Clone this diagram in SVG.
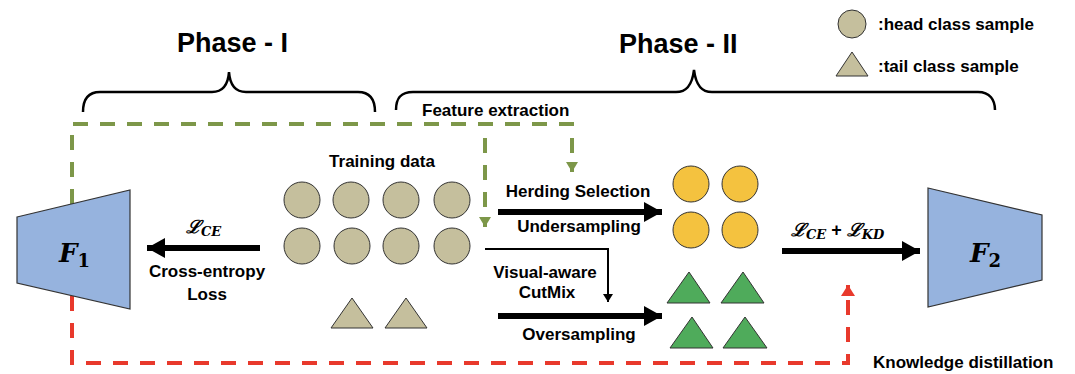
<svg xmlns="http://www.w3.org/2000/svg" width="1075" height="374" viewBox="0 0 1075 374">
<style>
.lbl{font-family:"Liberation Sans",Arial,sans-serif;font-weight:bold;font-size:17px;fill:#000}
.phase{font-family:"Liberation Sans",Arial,sans-serif;font-weight:bold;font-size:27px;fill:#000}
.math{font-family:"DejaVu Serif",serif;font-weight:bold;font-style:italic;fill:#000}
.head{fill:#c5bf9d;stroke:#333;stroke-width:1}
.tail{fill:#c5bf9d;stroke:#333;stroke-width:1}
.orange{fill:#f4c23f;stroke:#333;stroke-width:1}
.green{fill:#4fab5b;stroke:#333;stroke-width:1}
.net{fill:#96b3de;stroke:#333;stroke-width:1.2}
.brace{fill:none;stroke:#000;stroke-width:2.5}
.gdash{fill:none;stroke:#7d9749;stroke-width:4;stroke-dasharray:15 12}
.rdash{fill:none;stroke:#e8392c;stroke-width:4;stroke-dasharray:15 12}
.thick{stroke:#000;stroke-width:6;fill:none}
.thin{stroke:#000;stroke-width:2;fill:none}
</style>
<defs>
<marker id="big" markerUnits="userSpaceOnUse" markerWidth="20" markerHeight="20" viewBox="0 0 18 20" refX="18" refY="10" orient="auto"><path d="M0,0 L18,10 L0,20 Z" fill="#000"/></marker>
<marker id="small" markerUnits="userSpaceOnUse" markerWidth="10" markerHeight="10" viewBox="0 0 8 10" refX="8" refY="5" orient="auto"><path d="M0,0 L8,5 L0,10 Z" fill="#000"/></marker>
<marker id="gtip" markerUnits="userSpaceOnUse" markerWidth="12" markerHeight="12" viewBox="0 0 10 12" refX="10" refY="6" orient="auto"><path d="M0,0 L10,6 L0,12 Z" fill="#7d9749"/></marker>
<marker id="rtip" markerUnits="userSpaceOnUse" markerWidth="14" markerHeight="14" viewBox="0 0 11 14" refX="11" refY="7" orient="auto"><path d="M0,0 L11,7 L0,14 Z" fill="#e8392c"/></marker>
</defs>
<rect width="1075" height="374" fill="#fff"/>

<g id="phases">
<text class="phase" x="177" y="52">Phase - I</text>
<path class="brace" d="M83,112 C83,100 88,92 100,92 L212,92 C222,92 228,86 229,72 C230,86 236,92 246,92 L358,92 C370,92 375,100 375,112"/>
<text class="phase" x="619" y="53">Phase - II</text>
<path class="brace" d="M396,110 C396,98 401,92 413,92 L676,92 C686,92 692,86 694,70 C696,86 702,92 712,92 L978,92 C990,92 995,100 995,110"/>
</g>

<g id="legend">
<circle class="head" cx="852" cy="24" r="14"/>
<text class="lbl" x="878" y="30">:head class sample</text>
<polygon class="tail" points="852,52 836,76 868,76"/>
<text class="lbl" x="878" y="72">:tail class sample</text>
</g>

<g id="connectors">
<path class="gdash" d="M72,204 L72,124 L572,124 L572,172" marker-end="url(#gtip)"/>
<path class="gdash" d="M485,138 L485,227" marker-end="url(#gtip)"/>
<path class="rdash" d="M72,296 L72,363 L848,363 L848,285" marker-end="url(#rtip)"/>
<line class="thick" x1="260" y1="248" x2="147" y2="248" marker-end="url(#big)"/>
<line class="thick" x1="498" y1="212" x2="662" y2="212" marker-end="url(#big)"/>
<path class="thin" d="M485,249 L608,249 L608,302" marker-end="url(#small)"/>
<line class="thick" x1="498" y1="316" x2="662" y2="316" marker-end="url(#big)"/>
<line class="thick" x1="782" y1="251" x2="920" y2="251" marker-end="url(#big)"/>
<text class="lbl" x="422" y="116">Feature extraction</text>
<text class="lbl" x="578" y="197" text-anchor="middle">Herding Selection</text>
<text class="lbl" x="579" y="232" text-anchor="middle">Undersampling</text>
<text class="lbl" x="545" y="278" text-anchor="middle">Visual-aware</text>
<text class="lbl" x="547" y="298" text-anchor="middle">CutMix</text>
<text class="lbl" x="579" y="340" text-anchor="middle">Oversampling</text>
<text class="lbl" x="207" y="277" text-anchor="middle">Cross-entropy</text>
<text class="lbl" x="207" y="300" text-anchor="middle">Loss</text>
<text class="lbl" x="873" y="368">Knowledge distillation</text>
<text class="math" x="186" y="233" font-size="18">ℒ<tspan font-size="13" dy="3">CE</tspan></text>
<text class="math" x="791" y="236" font-size="18">ℒ<tspan font-size="13" dy="3">CE</tspan><tspan font-size="18" dy="-3" font-style="normal" font-family="Liberation Sans, Arial, sans-serif"> + </tspan>ℒ<tspan font-size="13" dy="3">KD</tspan></text>
</g>

<g id="F1">
<polygon class="net" points="17,217 130,190 130,309 17,283"/>
<text class="math" x="59" y="262" font-size="26">F<tspan font-size="18" dy="5" font-style="normal">1</tspan></text>
</g>

<g id="F2">
<polygon class="net" points="928,188 1042,215 1042,280 928,307"/>
<text class="math" x="970" y="262" font-size="26">F<tspan font-size="18" dy="5" font-style="normal">2</tspan></text>
</g>

<g id="training-data">
<text class="lbl" x="382" y="167" text-anchor="middle">Training data</text>
<circle class="head" cx="302" cy="200" r="18"/>
<circle class="head" cx="351" cy="200" r="18"/>
<circle class="head" cx="401" cy="200" r="18"/>
<circle class="head" cx="452" cy="200" r="18"/>
<circle class="head" cx="302" cy="246" r="18"/>
<circle class="head" cx="352" cy="246" r="18"/>
<circle class="head" cx="401" cy="246" r="18"/>
<circle class="head" cx="452" cy="246" r="18"/>
<polygon class="tail" points="352,298 331,328 373,328"/>
<polygon class="tail" points="406,298 385,328 427,328"/>
</g>

<g id="balanced-data">
<circle class="orange" cx="691" cy="184" r="18"/>
<circle class="orange" cx="740" cy="184" r="18"/>
<circle class="orange" cx="691" cy="230" r="18"/>
<circle class="orange" cx="740" cy="230" r="18"/>
<polygon class="green" points="689,272 667,303 710,303"/>
<polygon class="green" points="743,272 721,303 764,303"/>
<polygon class="green" points="692,317 670,348 713,348"/>
<polygon class="green" points="745,317 723,348 767,348"/>
</g>
</svg>
